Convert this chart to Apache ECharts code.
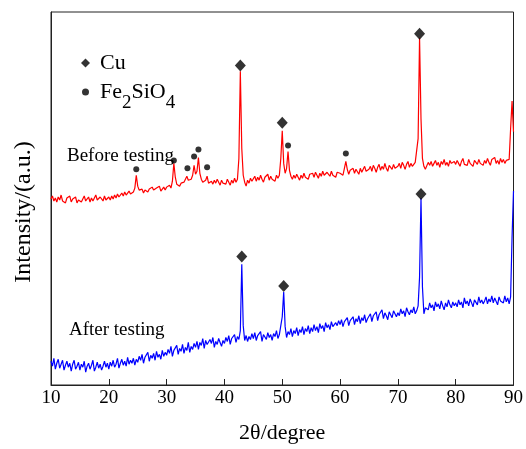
<!DOCTYPE html>
<html><head><meta charset="utf-8">
<script src="https://cdn.jsdelivr.net/npm/echarts/dist/echarts.min.js"></script>
<style>html,body{margin:0;padding:0;background:#fff}#c{width:526px;height:449px}</style>
</head><body><div id="c"></div><script>
// XRD scan: start angle and step (degrees 2θ)
const scanStart = 10;
const scanStep = 0.25;

// Intensity (a.u.) of the sample before testing, 10° .. 90° every 0.25°
const beforeTesting = [
188,191,186,189,185,190,187,192,186,188,184,189,187,191,185,188,186,190,184,187,
189,185,188,191,186,187,190,185,189,186,188,192,187,185,190,188,186,191,187,189,
190,187,191,188,192,189,193,190,188,194,191,195,192,190,196,193,191,195,199,212,
201,197,195,198,194,197,199,195,198,196,200,197,195,199,197,201,196,198,200,197,
200,198,202,199,206,224,210,203,205,201,204,202,205,203,211,207,209,208,212,222,
213,216,230,214,208,205,203,207,211,204,202,206,203,207,204,208,205,202,207,204,
206,203,208,205,202,207,204,209,205,208,229,317,239,212,205,201,207,204,209,206,
208,211,206,210,207,212,208,205,210,209,213,207,211,208,210,206,212,209,212,229,
257,224,214,219,236,217,211,208,212,209,213,210,207,212,209,214,210,212,208,213,
211,214,210,215,212,209,214,211,216,212,210,215,213,211,216,212,214,210,215,213,
214,216,212,219,226,218,213,217,215,219,214,218,216,213,219,215,217,221,216,218,
218,221,216,222,219,215,220,223,217,221,218,224,219,216,222,220,218,223,219,221,
221,224,219,225,222,218,223,226,220,224,221,219,225,226,249,351,269,229,221,218,
220,225,222,226,221,224,227,222,225,220,226,223,228,222,225,221,227,224,222,226,
223,227,224,221,226,229,223,225,222,228,224,226,221,227,225,223,228,224,226,222,
227,224,229,225,222,228,226,230,224,227,223,229,225,228,224,227,226,228,259,287,
256
];

// Intensity (a.u.) of the sample after testing, 10° .. 90° every 0.25°
const afterTesting = [
24,19,27,16,22,26,17,21,25,15,20,24,18,22,14,21,25,16,19,23,
15,21,18,24,13,19,22,16,20,25,14,18,23,17,21,15,19,24,18,22,
16,23,19,25,18,21,27,17,22,26,20,24,19,28,21,25,22,27,20,26,
23,29,25,31,22,28,26,33,24,30,27,32,25,34,28,31,26,35,29,33,
30,36,32,39,29,35,33,40,31,37,34,41,32,38,35,43,33,39,36,42,
38,44,36,43,40,47,37,45,41,39,46,42,48,38,44,41,47,43,39,45,
42,48,44,50,41,47,45,51,43,49,46,55,122,60,45,50,44,49,46,52,
47,53,45,50,48,54,44,51,49,46,53,48,51,45,52,49,55,47,51,60,
69,94,59,48,54,51,57,49,55,52,58,50,56,53,59,51,57,54,60,52,
58,54,61,55,59,53,62,57,60,54,63,58,61,56,64,59,57,63,60,65,
61,66,59,64,62,68,60,65,63,69,61,67,64,70,62,68,65,71,63,67,
66,72,64,70,68,74,65,71,69,76,67,73,70,66,74,71,68,75,72,69,
73,70,77,72,75,69,78,74,71,76,73,79,72,75,80,109,189,99,72,78,
80,76,83,78,81,75,84,79,82,77,85,80,76,83,79,86,81,78,84,80,
83,79,86,81,84,78,88,82,85,80,87,83,79,86,84,81,89,83,86,82,
85,89,82,87,84,90,83,88,86,81,89,85,87,83,90,84,88,82,89,149,
196
];

// Peak markers
const cuAngles  = [42.75, 50.0, 73.75, 43.0, 50.25, 74.0];
const cuHeights = [323, 265, 355, 130, 100, 193];
const feAngles  = [24.75, 31.25, 33.6, 34.75, 35.5, 37.0, 51.0, 61.0];
const feHeights = [218, 227, 219, 231, 238, 220, 242, 234];

// Axis
const xMin = 10, xMax = 90, xStep = 10;
const yMin = 0, yMax = 377;

const FONT = '"Liberation Serif", "Times New Roman", serif';
const toPairs = vals => vals.map((v, i) => [scanStart + i * scanStep, v]);
const zip = (a, b) => a.map((x, i) => [x, b[i]]);

const chart = echarts.init(document.getElementById('c'), null, {renderer: 'canvas'});
chart.setOption({
  animation: false,
  backgroundColor: '#fff',
  grid: {left: 51, right: 11, top: 12, bottom: 60, show: true, borderColor: '#222', borderWidth: 1},
  xAxis: {
    type: 'value', min: xMin, max: xMax, interval: xStep,
    axisLine: {lineStyle: {color: '#222', width: 1}},
    axisTick: {inside: true, length: 6, lineStyle: {color: '#222'}},
    axisLabel: {color: '#000', fontSize: 19, fontFamily: FONT, margin: 4},
    splitLine: {show: false},
    name: '2θ/degree', nameLocation: 'middle', nameGap: 37,
    nameTextStyle: {color: '#000', fontSize: 22, fontFamily: FONT}
  },
  yAxis: {
    type: 'value', min: yMin, max: yMax,
    axisLine: {show: true, lineStyle: {color: '#222', width: 1}},
    axisTick: {show: false}, axisLabel: {show: false}, splitLine: {show: false}
  },
  legend: [
    {
      data: [{name: 'Cu', icon: 'diamond'}], left: 76, top: 47, orient: 'vertical',
      itemWidth: 9, itemHeight: 9, selectedMode: false,
      textStyle: {color: '#000', fontSize: 22, fontFamily: FONT, padding: [0, 0, 0, 5]}
    },
    {
      data: [{name: 'Fe2SiO4', icon: 'circle'}], left: 77, top: 76, orient: 'vertical',
      itemWidth: 7, itemHeight: 7, selectedMode: false,
      formatter: () => '{n|Fe}{s|2}{n|SiO}{s|4}',
      textStyle: {
        color: '#000', fontSize: 22, fontFamily: FONT, padding: [0, 0, 0, 6],
        rich: {
          n: {fontSize: 22, fontFamily: FONT, color: '#000'},
          s: {fontSize: 19, fontFamily: FONT, color: '#000', padding: [22, 0, 0, 0]}
        }
      }
    }
  ],
  series: [
    {name: 'Before testing', type: 'line', data: toPairs(beforeTesting), showSymbol: false,
     lineStyle: {color: '#ff0000', width: 1.2}, itemStyle: {color: '#ff0000'}, silent: true, z: 2},
    {name: 'After testing', type: 'line', data: toPairs(afterTesting), showSymbol: false,
     lineStyle: {color: '#0000ff', width: 1.2}, itemStyle: {color: '#0000ff'}, silent: true, z: 2},
    {name: 'Cu', type: 'scatter', data: zip(cuAngles, cuHeights), symbol: 'diamond',
     symbolSize: [11, 12], itemStyle: {color: '#000'}, z: 5, silent: true},
    {name: 'Fe2SiO4', type: 'scatter', data: zip(feAngles, feHeights), symbol: 'circle',
     symbolSize: 6, itemStyle: {color: '#000'}, z: 5, silent: true}
  ],
  graphic: [
    {type: 'text', left: 67, top: 147, style: {text: 'Before testing', font: '19px "Liberation Serif"', fill: '#000'}},
    {type: 'text', left: 69, top: 321, style: {text: 'After testing', font: '19px "Liberation Serif"', fill: '#000'}},
    {type: 'text', x: 24, y: 212, rotation: Math.PI / 2,
     style: {text: 'Intensity/(a.u.)', font: '24px "Liberation Serif"', fill: '#000', textAlign: 'center', textVerticalAlign: 'middle'}}
  ]
});
</script></body></html>
